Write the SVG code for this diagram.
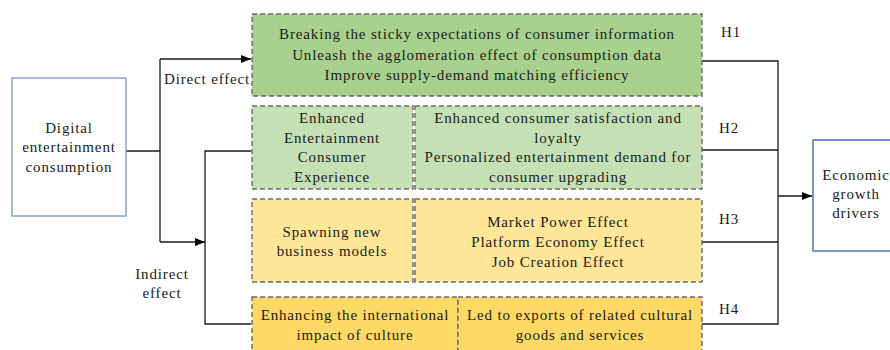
<svg xmlns="http://www.w3.org/2000/svg" width="890" height="350" viewBox="0 0 890 350">
  <defs>
    <marker id="arrow" viewBox="0 0 10 10" refX="10" refY="5" markerWidth="10" markerHeight="10" markerUnits="userSpaceOnUse" orient="auto">
      <path d="M0,1 L10,5 L0,9 Z" fill="#000"/>
    </marker>
  </defs>
  <style>
    text { font-family: "Liberation Serif", "Times New Roman", serif; font-size: 15px; letter-spacing: 0.85px; fill: #1a1a1a; text-anchor: middle; }
    .lbl { text-anchor: start; }
    .wire { fill: none; stroke: #1a1a1a; stroke-width: 1.3; }
    .dash { stroke: #6b6b6b; stroke-width: 1.4; stroke-dasharray: 5 3; }
    .g1 { fill: #a9d18e; }
    .g2 { fill: #c5e0b4; }
    .y1 { fill: #ffe699; }
    .y2 { fill: #ffd966; }
    .term { fill: #fff; stroke-width: 1.5; }
  </style>
  <rect width="890" height="350" fill="#fff"/>

  <!-- connectors -->
  <g id="connectors">
    <path class="wire" d="M126,151 H160 M160,59 V242"/>
    <path class="wire" d="M160,59 H251" marker-end="url(#arrow)"/>
    <path class="wire" d="M160,242 H205" marker-end="url(#arrow)"/>
    <path class="wire" d="M251,151 H205 V324 H251"/>
    <path class="wire" d="M702,61 H778 V324 H702 M702,150 H778 M702,242 H778"/>
    <path class="wire" d="M778,196 H812" marker-end="url(#arrow)"/>
    <text class="lbl" x="164" y="84">Direct effect</text>
    <text x="162" y="279">Indirect</text>
    <text x="162" y="298">effect</text>
  </g>

  <!-- source -->
  <g id="digital">
    <rect class="term" x="12" y="78" width="114" height="138" stroke="#8fa2cc"/>
    <text x="69" y="133">Digital</text>
    <text x="69" y="152">entertainment</text>
    <text x="69" y="172">consumption</text>
  </g>

  <!-- H1: direct effect -->
  <g id="direct">
    <rect class="g1 dash" x="252" y="14" width="450" height="82"/>
    <text x="477" y="39">Breaking the sticky expectations of consumer information</text>
    <text x="477" y="60">Unleash the agglomeration effect of consumption data</text>
    <text x="477" y="80">Improve supply-demand matching efficiency</text>
  </g>

  <!-- H2 -->
  <g id="experience">
    <rect class="g2 dash" x="252" y="106" width="161" height="83"/>
    <text x="332" y="123">Enhanced</text>
    <text x="332" y="143">Entertainment</text>
    <text x="332" y="162">Consumer</text>
    <text x="332" y="182">Experience</text>
  </g>
  <g id="satisfaction">
    <rect class="g2 dash" x="415" y="106" width="287" height="83"/>
    <text x="558" y="123">Enhanced consumer satisfaction and</text>
    <text x="558" y="143">loyalty</text>
    <text x="558" y="162">Personalized entertainment demand for</text>
    <text x="558" y="182">consumer upgrading</text>
  </g>

  <!-- H3 -->
  <g id="business">
    <rect class="y1 dash" x="252" y="199" width="161" height="83"/>
    <text x="332" y="237">Spawning new</text>
    <text x="332" y="256">business models</text>
  </g>
  <g id="effects">
    <rect class="y1 dash" x="415" y="199" width="287" height="83"/>
    <text x="558" y="227">Market Power Effect</text>
    <text x="558" y="247">Platform Economy Effect</text>
    <text x="558" y="267">Job Creation Effect</text>
  </g>

  <!-- H4 -->
  <g id="culture">
    <rect class="y2 dash" x="252" y="297" width="206" height="60"/>
    <text x="355" y="320">Enhancing the international</text>
    <text x="355" y="340">impact of culture</text>
  </g>
  <g id="exports">
    <rect class="y2 dash" x="458" y="297" width="244" height="60"/>
    <text x="580" y="320">Led to exports of related cultural</text>
    <text x="580" y="340">goods and services</text>
  </g>

  <!-- hypothesis tags -->
  <g id="tags">
    <text x="731" y="37">H1</text>
    <text x="729" y="133">H2</text>
    <text x="729" y="224">H3</text>
    <text x="729" y="314">H4</text>
  </g>

  <!-- target -->
  <g id="growth">
    <rect class="term" x="813" y="140" width="90" height="111" stroke="#4f6fb5"/>
    <text x="856" y="180">Economic</text>
    <text x="856" y="199">growth</text>
    <text x="856" y="218">drivers</text>
  </g>
</svg>
